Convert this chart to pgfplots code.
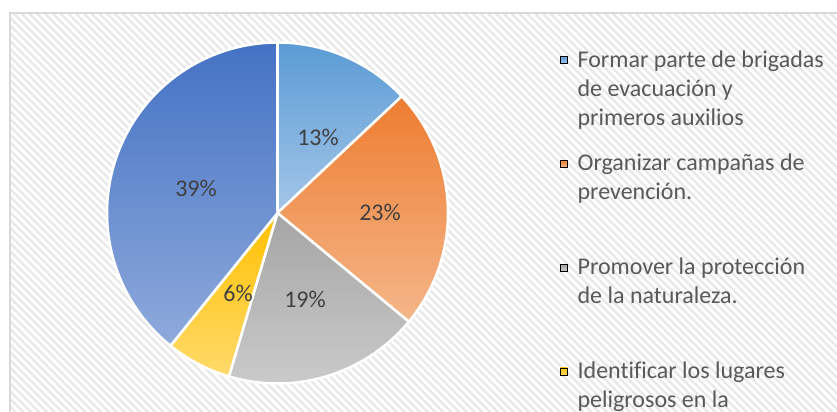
\documentclass[border=0pt]{standalone}
\usepackage{pgfplots}
\pgfplotsset{compat=1.18}
\usepackage{fontspec}
\setmainfont{Carlito}[Ligatures=NoCommon]
\usetikzlibrary{patterns.meta}

\definecolor{c1t}{HTML}{5B9BD5}\definecolor{c1b}{HTML}{A4C6E8}
\definecolor{c2t}{HTML}{ED7D31}\definecolor{c2b}{HTML}{F5B68A}
\definecolor{c3t}{HTML}{A5A5A5}\definecolor{c3b}{HTML}{CACACA}
\definecolor{c4t}{HTML}{FFC000}\definecolor{c4b}{HTML}{FFDA6B}
\definecolor{c5t}{HTML}{4472C4}\definecolor{c5b}{HTML}{8FAADC}
\definecolor{hatch}{HTML}{E8E8E8}
\definecolor{frame}{HTML}{D9D9D9}
\definecolor{lbl}{HTML}{404040}
\definecolor{leg}{HTML}{595959}

% slice values (percent)
\def\vA{13}\def\vB{23}\def\vC{18.6}\def\vD{6.2}\def\vE{39.2}
\pgfmathsetmacro\aA{0}
\pgfmathsetmacro\aB{\aA+3.6*\vA}
\pgfmathsetmacro\aC{\aB+3.6*\vB}
\pgfmathsetmacro\aD{\aC+3.6*\vC}
\pgfmathsetmacro\aE{\aD+3.6*\vD}
\pgfmathsetmacro\aF{\aE+3.6*\vE}

\begin{document}
\begin{tikzpicture}
\useasboundingbox (0,0) rectangle (837bp,412bp);
\fill[white] (0,0) rectangle (837bp,412bp);
\begin{axis}[
  x=1bp, y=1bp,
  anchor=south west, at={(10bp,-10bp)},
  xmin=10, xmax=850, ymin=-10, ymax=399,
  xtick=\empty, ytick=\empty,
  axis line style={draw=frame, line width=1.3bp},
  axis background/.style={preaction={fill=white}, pattern={Lines[angle=-45,distance=5.5bp,line width=2.3bp]}, pattern color=hatch},
  legend style={at={(axis description cs:0.6548,0.912)}, anchor=north west,
    draw=none, fill=none, inner xsep=0pt, inner ysep=0pt,
    row sep=5.7bp, column sep=10bp,
    nodes={inner sep=0pt, text height=18bp, text depth=80bp, text=leg},
    cells={anchor=base west},
    font=\fontsize{24bp}{29bp}\selectfont},
]
\addplot[draw=white, line width=2.5bp, line join=round, top color=c1t, bottom color=c1b, domain=\aA:\aB, samples=40, forget plot]
  ({277.5+170.5*sin(x)}, {199+170.5*cos(x)}) -- (axis cs:277.5,199) -- cycle;
\addplot[draw=white, line width=2.5bp, line join=round, top color=c2t, bottom color=c2b, domain=\aB:\aC, samples=50, forget plot]
  ({277.5+170.5*sin(x)}, {199+170.5*cos(x)}) -- (axis cs:277.5,199) -- cycle;
\addplot[draw=white, line width=2.5bp, line join=round, top color=c3t, bottom color=c3b, domain=\aC:\aD, samples=40, forget plot]
  ({277.5+170.5*sin(x)}, {199+170.5*cos(x)}) -- (axis cs:277.5,199) -- cycle;
\addplot[draw=white, line width=2.5bp, line join=round, top color=c4t, bottom color=c4b, domain=\aD:\aE, samples=20, forget plot]
  ({277.5+170.5*sin(x)}, {199+170.5*cos(x)}) -- (axis cs:277.5,199) -- cycle;
\addplot[draw=white, line width=2.5bp, line join=round, top color=c5t, bottom color=c5b, domain=\aE:\aF, samples=70, forget plot]
  ({277.5+170.5*sin(x)}, {199+170.5*cos(x)}) -- (axis cs:277.5,199) -- cycle;

\addplot[draw=none, mark=none, forget plot, nodes near coords, point meta=explicit symbolic,
  nodes near coords style={anchor=center, inner sep=0pt, font=\fontsize{24bp}{29bp}\selectfont, text=lbl}]
  table[meta=lab] {
x y lab
318 275 13\%
380 200 23\%
305 113 19\%
238 119 6\%
196 224 39\%
};

\addlegendimage{legend image code/.code={\shade[top color=c1t, bottom color=c1b] (0bp,3.5bp) rectangle (7bp,10.5bp);}}
\addlegendentry{\parbox[t]{270bp}{\raggedright Formar parte de brigadas\\de evacuación y\\primeros auxilios}}
\addlegendimage{legend image code/.code={\shade[top color=c2t, bottom color=c2b] (0bp,3.5bp) rectangle (7bp,10.5bp);}}
\addlegendentry{\parbox[t]{270bp}{\raggedright Organizar campañas de\\prevención.}}
\addlegendimage{legend image code/.code={\shade[top color=c3t, bottom color=c3b] (0bp,3.5bp) rectangle (7bp,10.5bp);}}
\addlegendentry{\parbox[t]{270bp}{\raggedright Promover la protección\\de la naturaleza.}}
\addlegendimage{legend image code/.code={\shade[top color=c4t, bottom color=c4b] (0bp,3.5bp) rectangle (7bp,10.5bp);}}
\addlegendentry{\parbox[t]{270bp}{\raggedright Identificar los lugares\\peligrosos en la\\comunidad.}}
\end{axis}
\end{tikzpicture}
\end{document}
